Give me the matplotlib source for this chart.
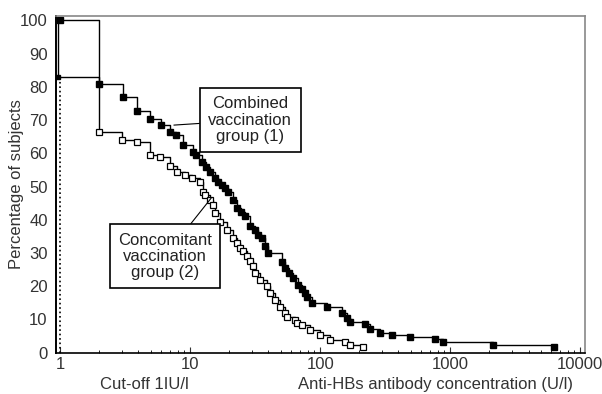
import matplotlib.pyplot as plt
import numpy as np

plt.rcParams['font.family'] = ['Liberation Sans', 'DejaVu Sans']

# Combined vaccination group (1) - reverse cumulative distribution
comb_x = [1, 2.0, 3.05, 3.9, 4.9, 6.0, 7.0, 7.8, 8.8, 10.6, 11.1, 12.4, 13.3, 14.2, 15.6, 16.5,
          17.6, 18.6, 19.6, 21.4, 23.0, 24.5, 26.5, 29.0, 31.6, 33.5, 35.8, 37.8, 39.8, 51.0,
          53.8, 58.0, 62.0, 67.7, 72.0, 76.7, 79.0, 86.8, 113, 148, 161, 170, 222, 243, 290,
          358, 490, 767, 884, 2140, 6300]
comb_y = [100, 81, 77, 72.8, 70.4, 68.6, 66.5, 65.5, 62.5, 60.5, 59.5, 57.4, 56.0, 54.4, 52.6, 51.5,
          50.5, 49.5, 48.3, 46.0, 43.6, 42.3, 41.0, 38.0, 36.8, 35.5, 34.5, 32.0, 30.0, 27.3,
          25.5, 24.0, 22.5, 20.4, 19.2, 18.0, 16.8, 15.0, 13.8, 11.9, 10.4, 9.3, 8.6, 7.1, 5.9,
          5.3, 4.7, 4.1, 3.2, 2.3, 1.7]

# Concomitant vaccination group (2)
conc_x = [0.97, 0.97, 2.0, 3.0, 3.9, 4.9, 5.9, 7.0, 7.9, 9.1, 10.4, 11.9, 12.6, 13.0, 14.2, 15.0,
          15.6, 17.0, 19.3, 21.4, 23.0, 24.3, 25.5, 27.4, 29.0, 30.5, 31.6, 34.5, 39.1, 41.0,
          45.0, 49.0, 53.8, 55.7, 64.0, 66.4, 72.5, 83.8, 100, 119, 156, 170, 215]
conc_y = [100, 83, 66.5, 64, 63.5, 59.5, 59, 56.3, 54.5, 53.5, 52.5, 51.4, 48.5, 47.5, 46, 44.5,
          42, 39.4, 37, 34.5, 33, 31.5, 30.5, 29, 27.5, 26, 24, 22, 20, 18,
          15.9, 13.8, 12, 10.8, 9.8, 9, 8.3, 6.8, 5.3, 3.8, 3.2, 2.3, 1.7]

y_ticks = [0, 10, 20, 30, 40, 50, 60, 70, 80, 90, 100]
x_ticks = [1, 10, 100, 1000, 10000]

fs = 12

fig = plt.figure(figsize=(6.02, 3.94), dpi=100)
ax = fig.add_axes([0.093, 0.105, 0.879, 0.854])

ax.plot(comb_x, comb_y, drawstyle='steps-post', color='black', lw=1.0)
ax.plot(comb_x[1:], comb_y[1:], 's', color='black', ms=3.8)
ax.plot(comb_x[0], comb_y[0], 's', color='black', ms=4.5)
ax.plot(conc_x, conc_y, drawstyle='steps-post', color='black', lw=1.0)
ax.plot(conc_x[2:], conc_y[2:], 's', mfc='white', mec='black', mew=0.9, ms=5)
ax.plot(conc_x[1], conc_y[1], 's', color='black', ms=3)

# cut-off line
ax.axvline(1, ymax=83 / 101.3, color='black', ls=':', lw=1.2)

ax.set_xscale('log')
ax.set_xlim(0.93, 10900)
ax.set_ylim(0, 101.3)
ax.set_yticks(y_ticks)
ax.set_xticks(x_ticks)
ax.set_xticklabels([str(t) for t in x_ticks])
ax.tick_params(axis='y', length=0, labelsize=fs, pad=6, colors='#333333')
ax.tick_params(axis='x', which='major', direction='in', length=4, labelsize=fs, colors='#333333')
ax.tick_params(axis='x', which='minor', direction='in', length=2.5)

for s in ['top', 'right']:
    ax.spines[s].set_color('#888888')
    ax.spines[s].set_linewidth(1.2)
ax.spines['left'].set_linewidth(1.4)
ax.spines['bottom'].set_linewidth(1.2)

ax.set_ylabel('Percentage of subjects', fontsize=fs, color='#333333')
ax.yaxis.set_label_coords(-0.06, 0.5)

fig.text(0.166, 0.012, 'Cut-off 1IU/l', fontsize=fs, color='#333333')
fig.text(0.952, 0.012, 'Anti-HBs antibody concentration (U/l)', fontsize=fs,
         color='#333333', ha='right')

box = dict(boxstyle='square,pad=0.5', fc='white', ec='black', lw=1.2)
ax.annotate('Combined\nvaccination\ngroup (1)', xy=(7.5, 68.5), xytext=(29, 70),
            fontsize=fs, ha='center', va='center', color='#222222', bbox=box,
            linespacing=1.1,
            arrowprops=dict(arrowstyle='-', color='black', lw=0.8, shrinkA=0, shrinkB=0))
ax.annotate('Concomitant\nvaccination\ngroup (2)', xy=(14.5, 46.5), xytext=(6.4, 29),
            fontsize=fs, ha='center', va='center', color='#222222', bbox=box,
            linespacing=1.1,
            arrowprops=dict(arrowstyle='-', color='black', lw=0.8, shrinkA=0, shrinkB=0))

fig.savefig('out.png', dpi=100)
